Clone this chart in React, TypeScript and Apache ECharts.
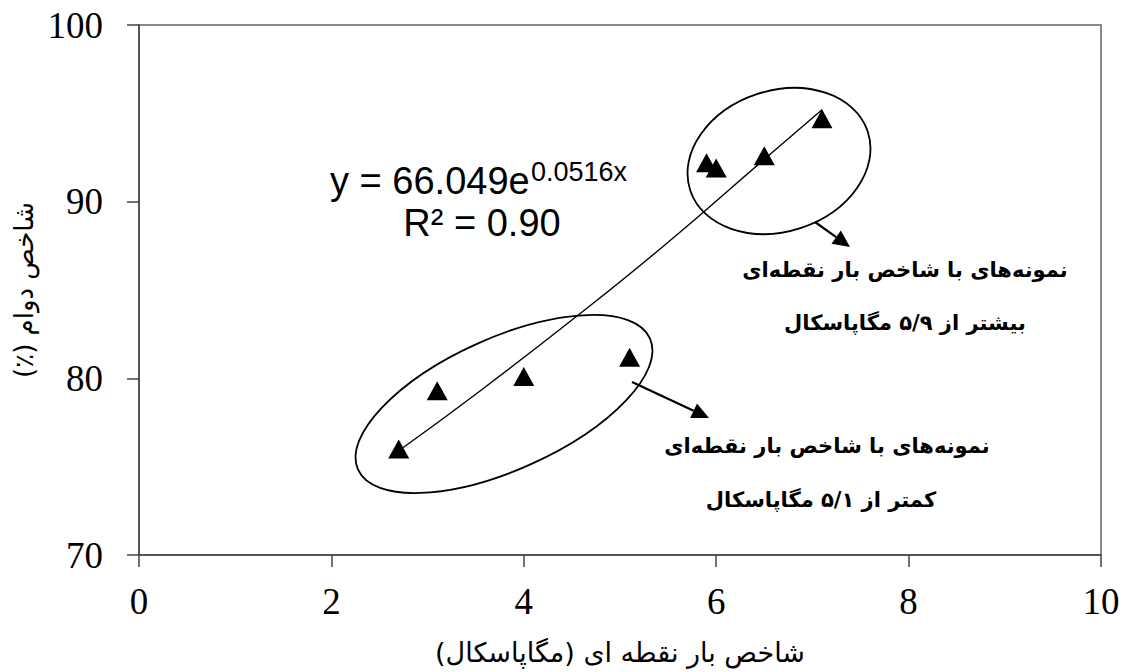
import React, { useEffect, useRef } from "react";
import * as echarts from "echarts";

// Data
const pointLoadIndex = [2.7, 3.1, 4.0, 5.1, 5.9, 6.0, 6.5, 7.1];
const durabilityIndex = [76.0, 79.3, 80.1, 81.2, 92.2, 91.9, 92.6, 94.7];

// Exponential trendline
const trendX = [2.7, 3.5, 4.5, 5.5, 6.5, 7.1];
const trendY = [75.9, 79.1, 83.3, 87.7, 92.4, 95.2];

const xTicks = [0, 2, 4, 6, 8, 10];
const yTicks = [70, 80, 90, 100];

const equationMain = "y = 66.049e";
const equationExp = "0.0516x";
const rSquared = "R² = 0.90";

const RLM = "\u200F";
const xAxisName = "شاخص بار نقطه ای (مگاپاسکال)" + RLM;
const yAxisName = "شاخص دوام (٪)" + RLM;

const highLine1 = "نمونه‌های با شاخص بار نقطه‌ای";
const highLine2 = "بیشتر از ۵/۹ مگاپاسکال";
const lowLine1 = "نمونه‌های با شاخص بار نقطه‌ای";
const lowLine2 = "کمتر از ۵/۱ مگاپاسکال";

function arrow(x1: number, y1: number, x2: number, y2: number) {
  const ang = Math.atan2(y2 - y1, x2 - x1);
  const len = 17;
  const half = 8;
  const bx = x2 - len * Math.cos(ang);
  const by = y2 - len * Math.sin(ang);
  const px = -Math.sin(ang) * half;
  const py = Math.cos(ang) * half;
  return [
    {
      type: "line",
      shape: { x1, y1, x2: bx, y2: by },
      style: { stroke: "#000", lineWidth: 2.2 },
      silent: true,
    },
    {
      type: "polygon",
      shape: {
        points: [
          [x2, y2],
          [bx + px, by + py],
          [bx - px, by - py],
        ],
      },
      style: { fill: "#000" },
      silent: true,
    },
  ];
}

export default function App() {
  const ref = useRef<HTMLDivElement>(null);

  useEffect(() => {
    if (!ref.current) return;
    const chart = echarts.init(ref.current, null, { renderer: "svg" });

    const tickFont = "'Liberation Serif', 'Times New Roman', serif";
    const persianFont = "'DejaVu Sans', 'Noto Sans', sans-serif";
    const eqFont = "'Liberation Sans', Arial, sans-serif";

    const annFont = {
      fill: "#000",
      fontSize: 21,
      fontWeight: "bold" as const,
      fontFamily: persianFont,
      align: "center" as const,
      verticalAlign: "middle" as const,
    };

    chart.setOption({
      animation: false,
      backgroundColor: "#fff",
      grid: {
        left: 139,
        right: 24,
        top: 25,
        bottom: 117,
        show: true,
        borderColor: "#888",
        borderWidth: 2,
        backgroundColor: "transparent",
        containLabel: false,
        outerBoundsMode: "none",
      },
      xAxis: {
        type: "value",
        min: xTicks[0],
        max: xTicks[xTicks.length - 1],
        interval: 2,
        name: xAxisName,
        nameLocation: "middle",
        nameGap: 82,
        nameTextStyle: { fontSize: 27, lineHeight: 30, fontFamily: persianFont, color: "#000" },
        axisLine: { show: true, lineStyle: { color: "#444", width: 1.5 } },
        axisTick: { show: true, inside: false, length: 12, lineStyle: { color: "#444", width: 1.5 } },
        axisLabel: { fontSize: 37, fontFamily: tickFont, color: "#000", margin: 28 },
        splitLine: { show: false },
      },
      yAxis: {
        type: "value",
        min: yTicks[0],
        max: yTicks[yTicks.length - 1],
        interval: 10,
        name: yAxisName,
        nameLocation: "middle",
        nameRotate: 90,
        nameGap: 100,
        nameTextStyle: { fontSize: 26, fontFamily: persianFont, color: "#000" },
        axisLine: { show: true, lineStyle: { color: "#444", width: 1.5 } },
        axisTick: { show: true, inside: false, length: 12, lineStyle: { color: "#444", width: 1.5 } },
        axisLabel: { fontSize: 37, fontFamily: tickFont, color: "#000", margin: 36 },
        splitLine: { show: false },
      },
      series: [
        {
          type: "line",
          data: trendX.map((x, i) => [x, trendY[i]]),
          smooth: true,
          showSymbol: false,
          symbol: "none",
          lineStyle: { color: "#000", width: 1.4 },
          z: 2,
          silent: true,
        },
        {
          type: "scatter",
          data: pointLoadIndex.map((x, i) => [x, durabilityIndex[i]]),
          symbol: "triangle",
          symbolSize: [21, 19],
          itemStyle: { color: "#000", opacity: 1 },
          z: 3,
        },
      ],
      graphic: [
        {
          type: "ellipse",
          x: 504,
          y: 404,
          rotation: 0.422,
          shape: { cx: 0, cy: 0, rx: 160, ry: 66 },
          style: { fill: "none", stroke: "#000", lineWidth: 1.8 },
          silent: true,
        },
        {
          type: "ellipse",
          x: 779,
          y: 161,
          rotation: 0.32,
          shape: { cx: 0, cy: 0, rx: 93.5, ry: 70.4 },
          style: { fill: "none", stroke: "#000", lineWidth: 1.8 },
          silent: true,
        },
        ...arrow(815, 222, 850, 247),
        ...arrow(632, 382, 709, 418),
        {
          type: "text",
          x: 330,
          y: 181,
          style: {
            text: equationMain,
            fill: "#000",
            fontSize: 38,
            fontFamily: eqFont,
            align: "left",
            verticalAlign: "middle",
          },
        },
        {
          type: "text",
          x: 531,
          y: 172,
          style: {
            text: equationExp,
            fill: "#000",
            fontSize: 27,
            fontFamily: eqFont,
            align: "left",
            verticalAlign: "middle",
          },
        },
        {
          type: "text",
          x: 482,
          y: 223,
          style: {
            text: rSquared,
            fill: "#000",
            fontSize: 38,
            fontFamily: eqFont,
            align: "center",
            verticalAlign: "middle",
          },
        },
        { type: "text", x: 905, y: 270, style: { ...annFont, text: highLine1 } },
        { type: "text", x: 905, y: 323, style: { ...annFont, text: highLine2 } },
        { type: "text", x: 827, y: 446, style: { ...annFont, text: lowLine1 } },
        { type: "text", x: 821, y: 500, style: { ...annFont, text: lowLine2 } },
      ],
    });

    return () => chart.dispose();
  }, []);

  return (
    <div
      ref={ref}
      style={{ position: "fixed", left: 0, top: 0, width: 1125, height: 672, background: "#fff" }}
    />
  );
}
